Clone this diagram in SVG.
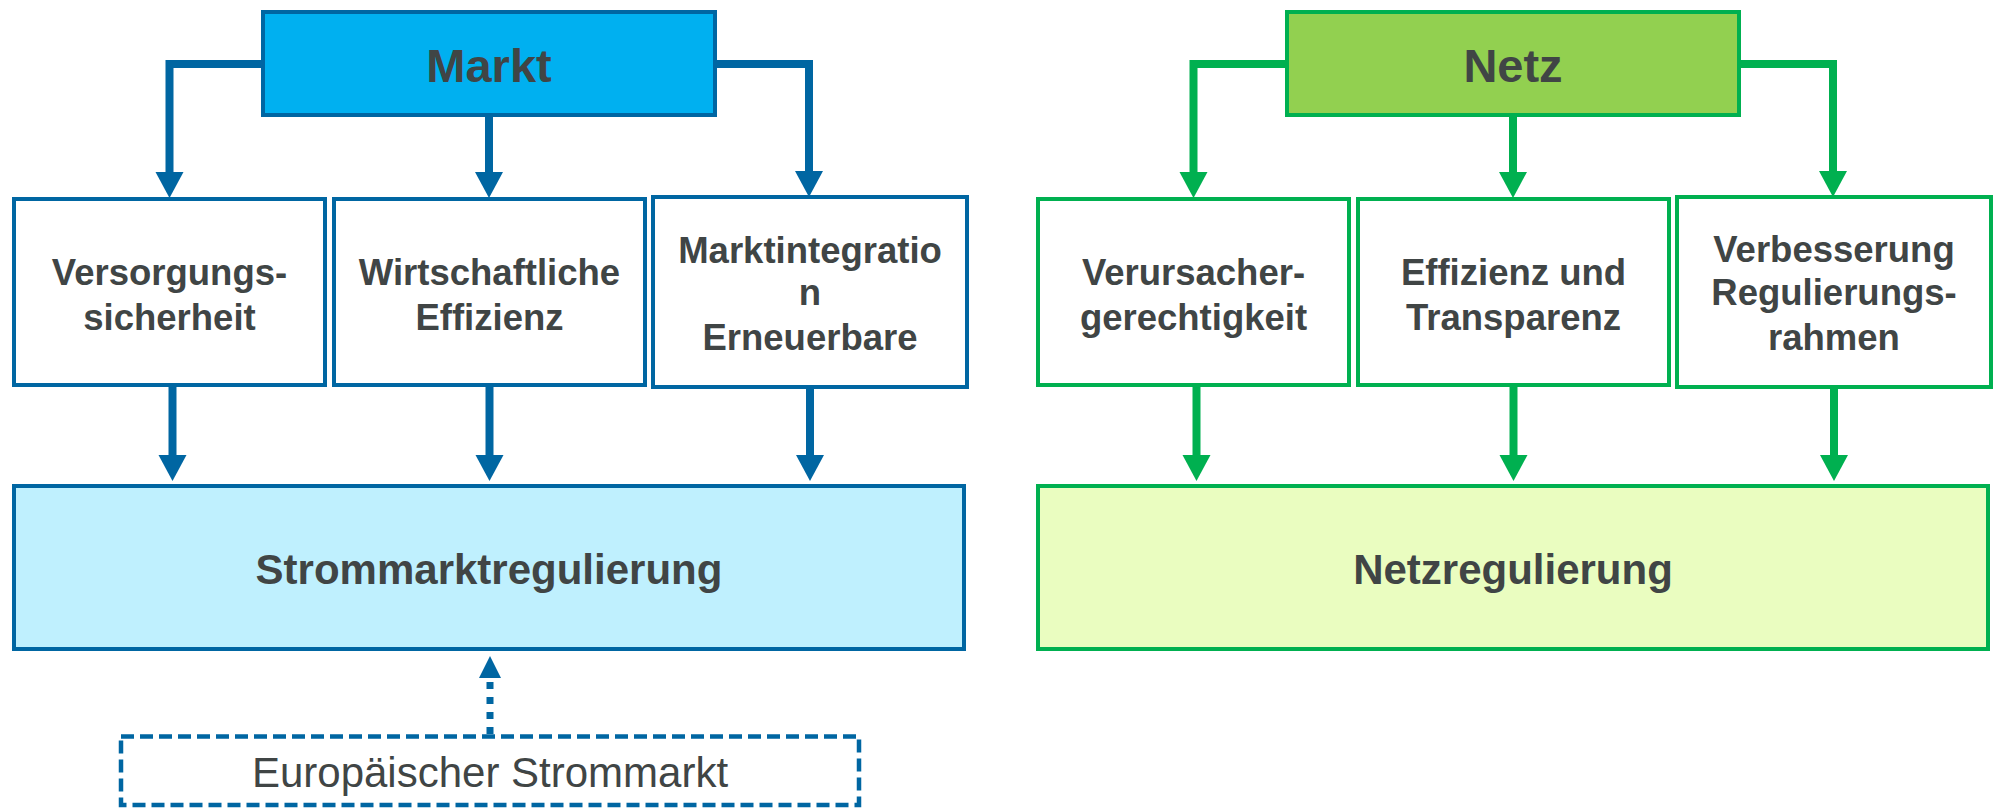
<svg xmlns="http://www.w3.org/2000/svg" width="1996" height="808" viewBox="0 0 1996 808">
<style>
  .bb { stroke: #0066A2; stroke-width: 4; }
  .gb { stroke: #00B050; stroke-width: 4; }
  .t { font-family: "Liberation Sans", Arial, sans-serif; fill: #404545; text-anchor: middle; }
  .b { font-weight: bold; }
  .lbl { font-size: 36.5px; font-weight: bold; }
  .cb { stroke: #0066A2; stroke-width: 8; fill: none; }
  .cg { stroke: #00B050; stroke-width: 8; fill: none; }
</style>
<defs>
  <marker id="ab" markerUnits="userSpaceOnUse" markerWidth="27" markerHeight="28" refX="0" refY="14" orient="auto" overflow="visible">
    <path d="M0,0 L26,14 L0,28 Z" fill="#0066A2"/>
  </marker>
  <marker id="ag" markerUnits="userSpaceOnUse" markerWidth="27" markerHeight="28" refX="0" refY="14" orient="auto" overflow="visible">
    <path d="M0,0 L26,14 L0,28 Z" fill="#00B050"/>
  </marker>
  <marker id="ad" markerUnits="userSpaceOnUse" markerWidth="22" markerHeight="22" refX="0" refY="11" orient="auto" overflow="visible">
    <path d="M0,0 L22,11 L0,22 Z" fill="#0066A2"/>
  </marker>
</defs>

<g id="markt">
  <rect class="bb" x="263" y="12" width="452" height="103" fill="#00B0F0"/>
  <text class="t b" x="489" y="82" font-size="47">Markt</text>
</g>
<g id="versorgung">
  <rect class="bb" x="14" y="199" width="311" height="186" fill="#FFFFFF"/>
  <text class="t lbl" x="169.5" y="285">Versorgungs-</text>
  <text class="t lbl" x="169.5" y="330">sicherheit</text>
</g>
<g id="wirtschaft">
  <rect class="bb" x="334" y="199" width="311" height="186" fill="#FFFFFF"/>
  <text class="t lbl" x="489.5" y="285">Wirtschaftliche</text>
  <text class="t lbl" x="489.5" y="330">Effizienz</text>
</g>
<g id="marktintegration">
  <rect class="bb" x="653" y="197" width="314" height="190" fill="#FFFFFF"/>
  <text class="t lbl" x="810" y="263">Marktintegratio</text>
  <text class="t lbl" x="810" y="305">n</text>
  <text class="t lbl" x="810" y="350">Erneuerbare</text>
</g>
<g id="strommarktregulierung">
  <rect class="bb" x="14" y="486" width="950" height="163" fill="#BFF0FE"/>
  <text class="t b" x="489" y="584" font-size="42">Strommarktregulierung</text>
</g>
<g id="europa">
  <rect x="121" y="736.5" width="738" height="68.5" fill="#FFFFFF" stroke="#0066A2" stroke-width="4.5" stroke-dasharray="13 6"/>
  <text class="t" x="490" y="787" font-size="42">Europäischer Strommarkt</text>
</g>

<g id="netz">
  <rect class="gb" x="1287" y="12" width="452" height="103" fill="#92D050"/>
  <text class="t b" x="1513" y="82" font-size="47">Netz</text>
</g>
<g id="verursacher">
  <rect class="gb" x="1038" y="199" width="311" height="186" fill="#FFFFFF"/>
  <text class="t lbl" x="1193.5" y="285">Verursacher-</text>
  <text class="t lbl" x="1193.5" y="330">gerechtigkeit</text>
</g>
<g id="effizienz">
  <rect class="gb" x="1358" y="199" width="311" height="186" fill="#FFFFFF"/>
  <text class="t lbl" x="1513.5" y="285">Effizienz und</text>
  <text class="t lbl" x="1513.5" y="330">Transparenz</text>
</g>
<g id="verbesserung">
  <rect class="gb" x="1677" y="197" width="314" height="190" fill="#FFFFFF"/>
  <text class="t lbl" x="1834" y="262">Verbesserung</text>
  <text class="t lbl" x="1834" y="305">Regulierungs-</text>
  <text class="t lbl" x="1834" y="350">rahmen</text>
</g>
<g id="netzregulierung">
  <rect class="gb" x="1038" y="486" width="950" height="163" fill="#EAFDC0"/>
  <text class="t b" x="1513" y="584" font-size="42">Netzregulierung</text>
</g>

<g id="connectors">
  <path class="cb" d="M263,64 H169.5 V172" marker-end="url(#ab)"/>
  <path class="cb" d="M489,115 V172" marker-end="url(#ab)"/>
  <path class="cb" d="M715,64 H809 V171" marker-end="url(#ab)"/>
  <path class="cb" d="M172.5,387 V455" marker-end="url(#ab)"/>
  <path class="cb" d="M489.5,387 V455" marker-end="url(#ab)"/>
  <path class="cb" d="M810,389 V455" marker-end="url(#ab)"/>
  <path d="M490,734 V678" stroke="#0066A2" stroke-width="7" stroke-dasharray="7 8" fill="none" marker-end="url(#ad)"/>

  <path class="cg" d="M1287,64 H1193.5 V172" marker-end="url(#ag)"/>
  <path class="cg" d="M1513,115 V172" marker-end="url(#ag)"/>
  <path class="cg" d="M1739,64 H1833 V171" marker-end="url(#ag)"/>
  <path class="cg" d="M1196.5,387 V455" marker-end="url(#ag)"/>
  <path class="cg" d="M1513.5,387 V455" marker-end="url(#ag)"/>
  <path class="cg" d="M1834,389 V455" marker-end="url(#ag)"/>
</g>
</svg>
